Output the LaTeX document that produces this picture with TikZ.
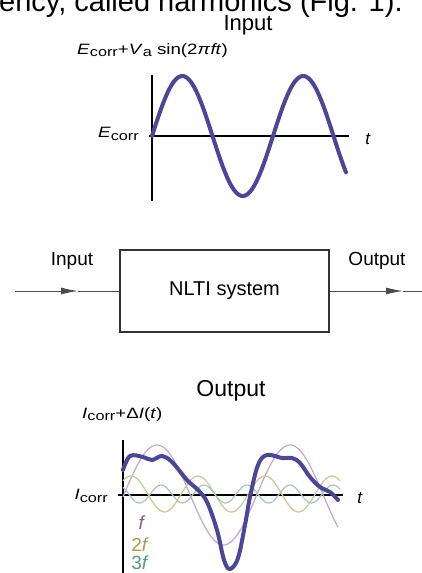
\documentclass[tikz,border=0pt]{standalone}
\usepackage{fontspec}
\setmainfont{Liberation Sans}
\usetikzlibrary{arrows.meta}

\definecolor{wave}{RGB}{74,70,152}
\definecolor{fone}{RGB}{200,166,204}
\definecolor{ftwo}{RGB}{200,200,146}
\definecolor{fthree}{RGB}{166,200,182}
\definecolor{foneTxt}{RGB}{140,90,140}
\definecolor{ftwoTxt}{RGB}{165,155,85}
\definecolor{fthreeTxt}{RGB}{90,155,125}

% lowered subscript and wide lettering of the plot labels
\newcommand{\lo}[1]{\raisebox{-0.35ex}{\fontsize{13}{13}\selectfont #1}}
\newcommand{\wide}[1]{\scalebox{1.25}[1]{#1}}

\begin{document}
\begin{tikzpicture}[x=1pt,y=-1pt,
    title/.style={font=\fontsize{22}{24}\selectfont},
    lbl/.style={font=\fontsize{15}{18}\selectfont, inner sep=0pt},
    tag/.style={font=\fontsize{19}{22}\selectfont, inner sep=0pt},
    axis/.style={black, line width=1.3pt},
    thickwave/.style={wave, line width=4pt, line cap=round, line join=round},
    thinwave/.style={line width=1.2pt},
    flow/.style={black!70, line width=1pt},
    box/.style={draw=black!80, line width=2pt, minimum width=209pt, minimum height=82pt,
                inner sep=0pt, font=\fontsize{20}{24}\selectfont}]
    \fill[white] (0,0) rectangle (422,573);
    \useasboundingbox (0,0) rectangle (422,573);

    % cut line of the page text
    \node[font=\fontsize{29}{30}\selectfont, anchor=base west, inner sep=0pt] (caption) at (-1,11) {ency, called harmonics (Fig. 1).};

    % Input signal
    \node[title, anchor=base] (intitle) at (248,30) {Input};
    \node[lbl, anchor=base west] (inform) at (77,54) {\wide{\textit{E}\lo{corr}+\textit{V}\lo{a} sin(2\textit{π}\textit{ft})}};
    \draw[axis] (152,75) -- (152,201);
    \draw[axis] (149,136) -- (349,136);
    \node[lbl, font=\fontsize{17}{18}\selectfont] (tin) at (368,139) {\textit{t}};
    \node[lbl, anchor=east] (ecorr) at (139,134) {\wide{\textit{E}\lo{corr}}};
    \draw[thickwave] plot[domain=152:346, samples=120] (\x, {136-60*sin((\x-152)/121*360)});

    % System block
    \node[box] (sys) at (224.5,291) {NLTI system};
    \coordinate (inL) at (15,291);
    \coordinate (inTip) at (78,291);
    \coordinate (outTip) at (403,291);
    \coordinate (outR) at (423,291);
    \draw[flow, -{Latex[length=17pt,width=7pt]}] (inL) -- (inTip);
    \draw[flow] (inTip) -- (sys.west);
    \draw[flow, -{Latex[length=17pt,width=7pt]}] (sys.east) -- (outTip);
    \draw[flow] (outTip) -- (outR);
    \node[tag] (inlbl) at (72,261) {Input};
    \node[tag] (outlbl) at (377,261) {Output};

    % Output signal
    \node[title, anchor=base, font=\fontsize{23}{24}\selectfont] (outtitle) at (231,396) {Output};
    \node[lbl, anchor=base west] (outform) at (82,418) {\wide{\textit{I}\lo{corr}+Δ\textit{I}(\textit{t})}};
    \draw[axis] (123,440) -- (123,574);
    \draw[axis] (118,495) -- (343,495);
    \node[lbl, font=\fontsize{17}{18}\selectfont] (tout) at (360,498) {\textit{t}};
    \node[lbl, anchor=east] (icorr) at (108,496) {\wide{\textit{I}\lo{corr}}};

    % Harmonics
    \draw[thinwave, fone] plot[domain=123:338, samples=120] (\x, {495-50*cos((\x-157)/133*360)});
    \draw[thinwave, ftwo] plot[domain=123:340, samples=120] (\x, {494-18*cos((\x-131)/67*360)});
    \draw[thinwave, fthree] plot[domain=123:340, samples=120] (\x, {494-9*cos((\x-161)/43*360)});
    \draw[thickwave] plot[smooth, tension=0.6] coordinates {(123,470) (130,456) (143,457) (152,460)
        (162,456) (172,462) (187,480) (198,490) (207,502) (217,530) (224,560) (230,569) (238,558)
        (245,525) (250,497) (258,465) (267,455) (282,458) (292,458) (300,463) (310,477) (320,487)
        (330,492) (338,500)};

    \node[tag, text=foneTxt] (lf) at (142,523) {\textit{f}};
    \node[tag, text=ftwoTxt] (l2f) at (140,545) {2\textit{f}};
    \node[tag, text=fthreeTxt] (l3f) at (140,563) {3\textit{f}};
\end{tikzpicture}
\end{document}
